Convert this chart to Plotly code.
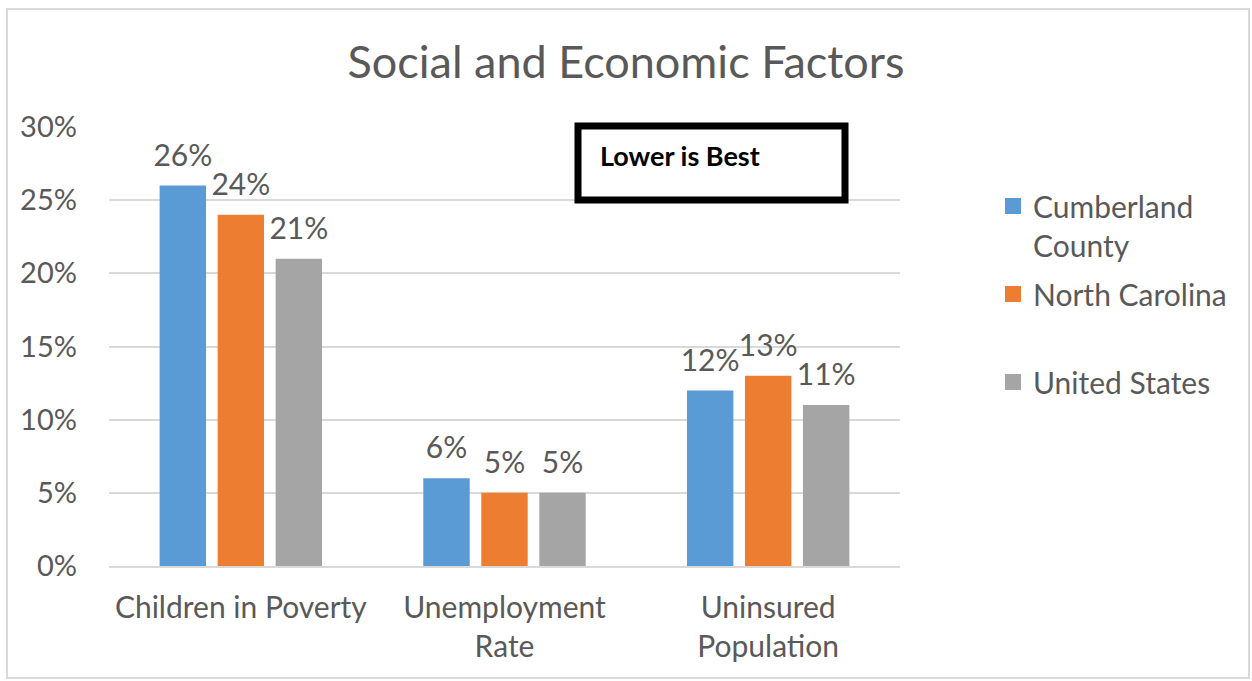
import plotly.graph_objects as go

categories = ["Children in Poverty", "Unemployment<br>Rate", "Uninsured<br>Population"]
cumberland = [26, 6, 12]
north_carolina = [24, 5, 13]
united_states = [21, 5, 11]

series = [
    ("Cumberland<br>County", cumberland, "#5B9BD5"),
    ("North Carolina<br> ", north_carolina, "#ED7D31"),
    ("United States", united_states, "#A5A5A5"),
]

FONT = "Lato"
TEXT = "#595959"
GAP = 0.34

fig = go.Figure()
# bars
for i, (name, vals, color) in enumerate(series):
    fig.add_trace(go.Bar(
        x=categories, y=vals, name=name, showlegend=False,
        offsetgroup=f"g{i}",
        marker=dict(color=color, line=dict(width=0)),
        hoverinfo="x+y",
    ))
# value labels, grouped the same way as the bars and lifted by an invisible marker
for i, (name, vals, color) in enumerate(series):
    fig.add_trace(go.Scatter(
        x=categories, y=vals, mode="markers+text", showlegend=False,
        offsetgroup=f"g{i}",
        marker=dict(size=18, opacity=0, color=color),
        text=[f"{v}%" for v in vals], textposition="top center",
        textfont=dict(family=FONT, size=30, color=TEXT),
        cliponaxis=False, hoverinfo="skip",
    ))
# legend entries with larger square swatches
for i, (name, vals, color) in enumerate(series):
    fig.add_trace(go.Scatter(
        x=[None], y=[None], mode="markers", name=name, legendgroup=f"g{i}",
        offsetgroup=f"g{i}",
        marker=dict(symbol="square", size=16, color=color),
    ))

W, H = 1252, 681
L, R, T, B = 109, 352, 127, 115
pw, ph = W - L - R, H - T - B

def px(x):
    return (x - L) / pw

def py(y):
    return (H - B - y) / ph

fig.update_layout(
    width=W, height=H,
    margin=dict(l=L, r=R, t=T, b=B),
    paper_bgcolor="white", plot_bgcolor="white",
    font=dict(family=FONT, color=TEXT),
    barmode="group", bargap=GAP, bargroupgap=0.2,
    scattermode="group", scattergap=GAP,
    title=dict(text="Social and Economic Factors", x=0.5, xref="container", xanchor="center",
               y=1 - 62 / H, yanchor="middle",
               font=dict(family=FONT, size=45, color=TEXT)),
    xaxis=dict(showgrid=False, showline=True, linecolor="#D9D9D9", linewidth=2,
               tickfont=dict(family=FONT, size=30, color=TEXT), ticks="",
               ticklabelstandoff=14),
    yaxis=dict(range=[0, 30], dtick=5, ticksuffix="%", showgrid=True,
               gridcolor="#D9D9D9", gridwidth=2, zeroline=False, showline=False,
               tickfont=dict(family=FONT, size=29, color=TEXT), ticks="",
               ticklabelstandoff=31),
    legend=dict(x=px(993), xanchor="left", y=py(180), yanchor="top",
                font=dict(family=FONT, size=30, color=TEXT), valign="top",
                tracegroupgap=7, itemwidth=30, bgcolor="rgba(0,0,0,0)"),
    shapes=[
        dict(type="rect", xref="paper", yref="paper",
             x0=px(7), x1=px(1249), y0=py(678), y1=py(9),
             line=dict(color="#D9D9D9", width=2), fillcolor="rgba(0,0,0,0)", layer="below"),
        dict(type="rect", xref="paper", yref="paper",
             x0=px(578), x1=px(845), y0=py(200), y1=py(126),
             line=dict(color="black", width=7), fillcolor="white"),
    ],
    annotations=[
        dict(text="<b>Lower is Best</b>", xref="paper", yref="paper",
             x=px(598), y=py(155), xanchor="left", yanchor="middle", showarrow=False,
             font=dict(family=FONT, size=27, color="black")),
    ],
)

fig.write_html("out.html")
